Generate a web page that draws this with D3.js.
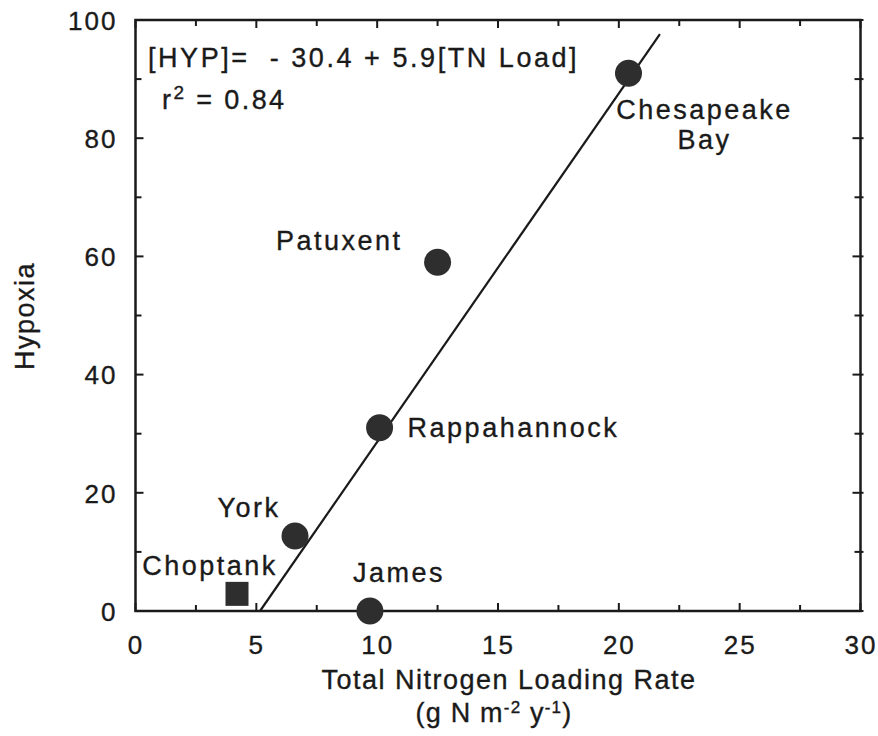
<!DOCTYPE html>
<html>
<head>
<meta charset="utf-8">
<script src="https://cdn.jsdelivr.net/npm/d3@7"></script>
<style>
  html, body { margin: 0; padding: 0; background: #fff; }
  svg text {
    font-family: "Liberation Sans", Arial, Helvetica, sans-serif;
    fill: #1a1a1a; stroke: #1a1a1a; stroke-width: 0.35px;
  }
</style>
</head>
<body>
<svg id="chart" width="878" height="736"></svg>
<script>
// Estuaries: total nitrogen load vs. hypoxia index
const sites      = ["Chesapeake Bay", "Patuxent", "Rappahannock", "York", "Choptank", "James"];
const tnLoad     = [20.4, 12.5, 10.1, 6.6, 4.2, 9.7];
const hypoxia    = [91, 59, 31, 12.7, 2.9, 0];
const markerType = ["circle", "circle", "circle", "circle", "square", "circle"];

// Regression fit printed on the chart
const fitIntercept = -30.4;
const fitSlope = 5.9;
const fitR2 = 0.84;
const fitXEnd = 21.7;

const xTickValues = [0, 5, 10, 15, 20, 25, 30];
const yTickValues = [0, 20, 40, 60, 80, 100];

// Label placement relative to each marker (pixels)
const labelLayout = {
  "Chesapeake Bay": { dx: 76, dy: 46, anchor: "middle", lines: ["Chesapeake", "Bay"] },
  "Patuxent":       { dx: -35, dy: -12, anchor: "end" },
  "Rappahannock":   { dx: 28, dy: 9, anchor: "start" },
  "York":           { dx: -46, dy: -19, anchor: "middle" },
  "Choptank":       { dx: -27, dy: -19, anchor: "middle" },
  "James":          { dx: 29, dy: -29, anchor: "middle" }
};

const svg = d3.select("#chart");
const plotLeft = 135.5, plotRight = 860.5, plotTop = 20, plotBottom = 611;

const x = d3.scaleLinear().domain([0, 30]).range([plotLeft, plotRight]);
const y = d3.scaleLinear().domain([0, 100]).range([plotBottom, plotTop]);

const ink = "#1a1a1a";
const dot = "#2e2e2e";

// Ticks: majors every 5 / 20, minors halfway, all pointing into the plot
const g = svg.append("g");
const xMinor = d3.range(0, 30.01, 2.5);
const yMinor = d3.range(0, 100.01, 10);

xMinor.forEach(v => {
  const len = (v % 5 === 0) ? 8 : 6;
  g.append("line").attr("x1", x(v)).attr("x2", x(v)).attr("y1", plotBottom).attr("y2", plotBottom - len)
    .attr("stroke", ink).attr("stroke-width", 2);
  g.append("line").attr("x1", x(v)).attr("x2", x(v)).attr("y1", plotTop).attr("y2", plotTop + len)
    .attr("stroke", ink).attr("stroke-width", 2);
});
yMinor.forEach(v => {
  const len = (v % 20 === 0) ? 8 : 6;
  g.append("line").attr("x1", plotLeft).attr("x2", plotLeft + len).attr("y1", y(v)).attr("y2", y(v))
    .attr("stroke", ink).attr("stroke-width", 2);
  g.append("line").attr("x1", plotRight - len).attr("x2", plotRight + 3).attr("y1", y(v)).attr("y2", y(v))
    .attr("stroke", ink).attr("stroke-width", 2);
});

// Frame
svg.append("rect")
  .attr("x", plotLeft).attr("y", plotTop)
  .attr("width", plotRight - plotLeft).attr("height", plotBottom - plotTop)
  .attr("fill", "none").attr("stroke", ink).attr("stroke-width", 2.5);

// Tick labels via d3 axes (lines hidden; frame drawn above)
const xAxis = svg.append("g")
  .attr("transform", `translate(0,${plotBottom})`)
  .call(d3.axisBottom(x).tickValues(xTickValues).tickSize(0).tickPadding(0));
xAxis.select(".domain").remove();
xAxis.selectAll("text")
  .attr("y", 43).attr("dy", null)
  .style("font-size", "26px").style("letter-spacing", "2px");

const yAxis = svg.append("g")
  .attr("transform", `translate(${plotLeft},0)`)
  .call(d3.axisLeft(y).tickValues(yTickValues).tickSize(0).tickPadding(0));
yAxis.select(".domain").remove();
yAxis.selectAll("text")
  .attr("x", -18).attr("dy", "0.36em")
  .style("font-size", "26px").style("letter-spacing", "2px");

// Regression line
const fitX0 = -fitIntercept / fitSlope;
svg.append("line")
  .attr("x1", x(fitX0)).attr("y1", y(0))
  .attr("x2", x(fitXEnd)).attr("y2", y(fitIntercept + fitSlope * fitXEnd))
  .attr("stroke", ink).attr("stroke-width", 2.2);

// Markers
const data = sites.map((s, i) => ({ site: s, tn: tnLoad[i], hyp: hypoxia[i], type: markerType[i] }));
const marks = svg.append("g");
marks.selectAll("circle")
  .data(data.filter(d => d.type === "circle"))
  .join("circle")
  .attr("cx", d => x(d.tn)).attr("cy", d => y(d.hyp))
  .attr("r", 13.5).attr("fill", dot);
marks.selectAll("rect")
  .data(data.filter(d => d.type === "square"))
  .join("rect")
  .attr("x", d => x(d.tn) - 11.5).attr("y", d => y(d.hyp) - 12)
  .attr("width", 23).attr("height", 24).attr("fill", dot);

// Site labels
data.forEach(d => {
  const L = labelLayout[d.site];
  const lines = L.lines || [d.site];
  const t = svg.append("text")
    .attr("x", x(d.tn) + L.dx).attr("y", y(d.hyp) + L.dy)
    .attr("text-anchor", L.anchor)
    .style("font-size", "27px").style("letter-spacing", "2.5px");
  lines.forEach((ln, k) => {
    t.append("tspan").attr("x", x(d.tn) + L.dx).attr("dy", k === 0 ? 0 : 30).text(ln);
  });
});

// Regression equation
const eq = svg.append("text").attr("x", 148).attr("y", 67)
  .style("font-size", "27px").style("letter-spacing", "2.55px")
  .attr("xml:space", "preserve");
eq.text(`[HYP]=  - ${Math.abs(fitIntercept).toFixed(1)} + ${fitSlope.toFixed(1)}[TN Load]`);

const r2 = svg.append("text").attr("x", 162).attr("y", 109)
  .style("font-size", "27px").style("letter-spacing", "2.4px");
r2.append("tspan").text("r");
r2.append("tspan").attr("dy", -10).style("font-size", "19px").text("2");
r2.append("tspan").attr("dy", 10).text(` = ${fitR2.toFixed(2)}`);

// Axis titles
svg.append("text")
  .attr("x", 509).attr("y", 689).attr("text-anchor", "middle")
  .style("font-size", "27px").style("letter-spacing", "1.5px")
  .text("Total Nitrogen Loading Rate");

const unit = svg.append("text")
  .attr("x", 494).attr("y", 722).attr("text-anchor", "middle")
  .style("font-size", "27px").style("letter-spacing", "1.2px");
unit.append("tspan").text("(g N m");
unit.append("tspan").attr("dy", -9).style("font-size", "17px").text("-2");
unit.append("tspan").attr("dy", 9).text(" y");
unit.append("tspan").attr("dy", -9).style("font-size", "17px").text("-1");
unit.append("tspan").attr("dy", 9).text(")");

svg.append("text")
  .attr("transform", "translate(34,316) rotate(-90)")
  .attr("text-anchor", "middle")
  .style("font-size", "27px").style("letter-spacing", "1.5px")
  .text("Hypoxia");
</script>
</body>
</html>
